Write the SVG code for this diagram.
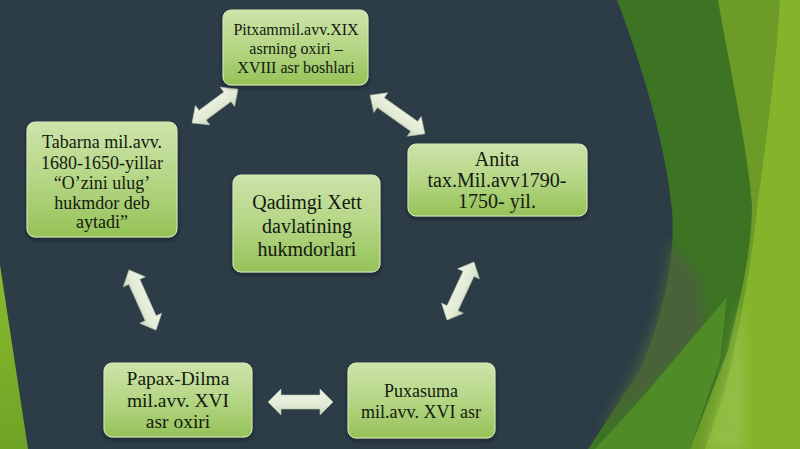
<svg xmlns="http://www.w3.org/2000/svg" width="800" height="449" viewBox="0 0 800 449">
<defs>
<linearGradient id="ng" x1="0" y1="0" x2="0" y2="1">
<stop offset="0" stop-color="#cde4aa"/>
<stop offset="0.5" stop-color="#b5d685"/>
<stop offset="1" stop-color="#95c258"/>
</linearGradient>
<linearGradient id="ag" x1="0" y1="0" x2="0" y2="1">
<stop offset="0" stop-color="#f0f5e8"/>
<stop offset="0.6" stop-color="#e2ebd6"/>
<stop offset="1" stop-color="#c9d6bb"/>
</linearGradient>
<linearGradient id="lw" x1="0" y1="0" x2="0" y2="1">
<stop offset="0" stop-color="#8abb2e"/>
<stop offset="1" stop-color="#6fa326"/>
</linearGradient>
<filter id="sh" x="-10%" y="-10%" width="120%" height="130%">
<feDropShadow dx="0" dy="2" stdDeviation="2" flood-color="#0d161b" flood-opacity="0.6"/>
</filter>
<filter id="bl" x="-20%" y="-20%" width="140%" height="140%">
<feGaussianBlur stdDeviation="6"/>
</filter>
</defs>
<style>
.node rect{fill:url(#ng);stroke:#d6eabb;stroke-width:1;filter:url(#sh)}
.node text{font-family:"Liberation Serif","Times New Roman",serif;fill:#141a10;text-anchor:middle}
.arr{fill:url(#ag);stroke:#b9c7ab;stroke-width:0.6}
</style>
<rect width="800" height="449" fill="#2c3d47"/>
<g id="background">
<path d="M0,265 L28,449 L0,449 Z" fill="url(#lw)"/>
<path d="M617,0 C640,60 665,140 672,210 C676,260 662,320 640,370 L588,449 L800,449 L800,0 Z" fill="#3c7423"/>
<path d="M670,240 C666,300 650,345 625,390 L600,430 L650,390 L705,330 L700,280 Z" fill="#4c613c" filter="url(#bl)" opacity="0.9"/>
<path d="M595,449 L640,400 L727,297 L720,360 L690,449 Z" fill="#4f8c27"/>
<path d="M718,0 C730,70 748,150 752,205 C752,250 740,300 728,350 L690,449 L800,449 L800,0 Z" fill="#6c9c27"/>
<path d="M780,0 C775,80 765,150 758,200 C752,260 740,330 725,390 L705,449 L800,449 L800,0 Z" fill="#84b42c"/>
<path d="M740,300 C735,340 720,390 705,449 L745,449 C745,400 748,350 740,300 Z" fill="#9cc455" filter="url(#bl)" opacity="0.6"/>
</g>
<g id="connectors">
<polygon class="arr" transform="translate(215,106) rotate(-36.5)" points="-28.5,0 -15.5,-12 -15.5,-6 15.5,-6 15.5,-12 28.5,0 15.5,12 15.5,6 -15.5,6 -15.5,12"/>
<polygon class="arr" transform="translate(397.5,114.5) rotate(35.3)" points="-33.5,0 -20.5,-12 -20.5,-6 20.5,-6 20.5,-12 33.5,0 20.5,12 20.5,6 -20.5,6 -20.5,12"/>
<polygon class="arr" transform="translate(460.5,291) rotate(-65)" points="-32,0 -19,-12 -19,-6 19,-6 19,-12 32,0 19,12 19,6 -19,6 -19,12"/>
<polygon class="arr" transform="translate(300.5,402)" points="-32.5,0 -19.5,-13 -19.5,-7 19.5,-7 19.5,-13 32.5,0 19.5,13 19.5,7 -19.5,7 -19.5,13"/>
<polygon class="arr" transform="translate(142.5,300) rotate(65.8)" points="-33,0 -20,-12 -20,-6 20,-6 20,-12 33,0 20,12 20,6 -20,6 -20,12"/>
</g>
<g id="node-top" class="node">
<rect x="223" y="10" width="145" height="75" rx="8"/>
<text font-size="16"><tspan x="296" y="35">Pitxammil.avv.XIX</tspan><tspan x="296" y="54">asrning oxiri –</tspan><tspan x="296" y="73">XVIII asr boshlari</tspan></text>
</g>
<g id="node-left" class="node">
<rect x="27" y="122" width="150" height="115" rx="8"/>
<text font-size="18"><tspan x="102" y="148">Tabarna mil.avv.</tspan><tspan x="102" y="169">1680-1650-yillar</tspan><tspan x="102" y="189">“O’zini ulug’</tspan><tspan x="102" y="209">hukmdor deb</tspan><tspan x="102" y="228">aytadi”</tspan></text>
</g>
<g id="node-right" class="node">
<rect x="408" y="144" width="179" height="72" rx="8"/>
<text font-size="20"><tspan x="497" y="166">Anita</tspan><tspan x="497" y="187">tax.Mil.avv1790-</tspan><tspan x="497" y="208">1750- yil.</tspan></text>
</g>
<g id="node-center" class="node">
<rect x="233" y="175" width="147" height="97" rx="8"/>
<text font-size="20"><tspan x="307" y="209">Qadimgi Xett</tspan><tspan x="307" y="233">davlatining</tspan><tspan x="307" y="256">hukmdorlari</tspan></text>
</g>
<g id="node-bottom-left" class="node">
<rect x="104" y="363" width="148" height="74" rx="8"/>
<text font-size="19.5"><tspan x="178" y="385">Papax-Dilma</tspan><tspan x="178" y="407">mil.avv. XVI</tspan><tspan x="178" y="428">asr oxiri</tspan></text>
</g>
<g id="node-bottom-right" class="node">
<rect x="348" y="363" width="147" height="75" rx="8"/>
<text font-size="18"><tspan x="421" y="397">Puxasuma</tspan><tspan x="421" y="418">mil.avv. XVI asr</tspan></text>
</g>
</svg>
